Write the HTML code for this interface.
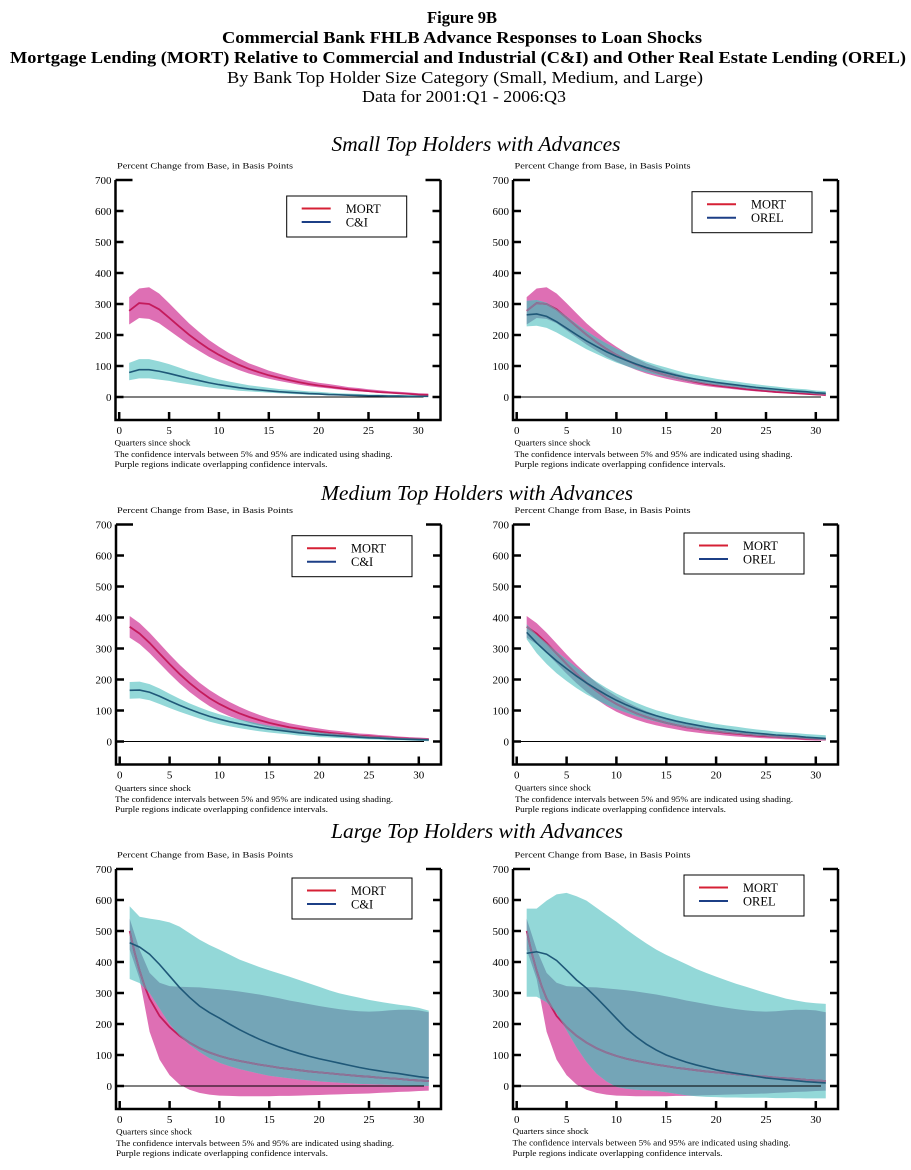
<!DOCTYPE html>
<html><head><meta charset="utf-8"><style>
html,body{margin:0;padding:0;background:#fff;}
svg{display:block;}
text{font-family:"Liberation Serif",serif;fill:#000;}
.mag{fill:#de6fb4;}
.cyn{fill:#93d8d8;}
.ovl{fill:#74a5b7;}
.lm{fill:none;stroke:#c41b5c;stroke-width:1.8;vector-effect:non-scaling-stroke;}
.lmm{fill:none;stroke:#8a7598;stroke-width:1.8;vector-effect:non-scaling-stroke;}
.lo{fill:none;stroke:#1f5878;stroke-width:1.6;vector-effect:non-scaling-stroke;}
.yl{font-size:11px;text-anchor:end;}
.xl{font-size:11px;text-anchor:middle;}
.fn{font-size:8.5px;}
.lg{font-size:12.5px;}
</style></head><body>
<svg width="911" height="1170" viewBox="0 0 911 1170" xmlns="http://www.w3.org/2000/svg">
<rect width="911" height="1170" fill="#fff"/>
<defs>
<g id="frame" fill="none" stroke="#000">
 <path stroke-width="2.5" d="M0,0V240M325,0V240M-1.25,240H326.25"/>
 <path stroke-width="2.5" d="M0,0H17M0,31H8M0,62H8M0,93H8M0,124H8M0,155H8M0,186H8M0,217H8"/>
 <path stroke-width="2.5" d="M325,0H310M325,31H317M325,62H317M325,93H317M325,124H317M325,155H317M325,186H317M325,217H317"/>
 <path stroke-width="2.5" d="M3.7,240V232M53.6,240V232M103.4,240V232M153.3,240V232M203.1,240V232M253,240V232M302.8,240V232"/>
</g>
<g id="zero"><path d="M0,217H308" stroke="#000" stroke-width="1" fill="none"/></g>
<g id="legbox"><rect x="0" y="0" width="120" height="41" fill="#fff" stroke="#000" stroke-width="1"/>
<path d="M15,12.5H44" stroke="#d62035" stroke-width="2"/><path d="M15,26H44" stroke="#1c3f86" stroke-width="2"/></g>

<clipPath id="cTL" clipPathUnits="userSpaceOnUse"><polygon points="1,110 2,122 3,122 4,115 5,106 6,95 7,84 8,75 9,65 10,57 11,50 12,44 13,38 14,34 15,30 16,26 17,23 18,21 19,18 20,17 21,14 22,12 23,11 24,10 25,8 26,8 27,7 28,7 29,6 30,6 31,6 31,1 30,1 29,1 28,2 27,2 26,3 25,3 24,3 23,4 22,5 21,5 20,7 19,7 18,9 17,10 16,12 15,14 14,16 13,18 12,20 11,24 10,27 9,31 8,36 7,41 6,46 5,52 4,56 3,60 2,60 1,54"/></clipPath>
<clipPath id="cTR" clipPathUnits="userSpaceOnUse"><polygon points="1,310 2,313 3,304 4,284 5,260 6,236 7,213 8,192 9,173 10,156 11,141 12,127 13,114 14,104 15,95 16,86 17,77 18,71 19,65 20,59 21,54 22,50 23,45 24,41 25,37 26,34 27,30 28,27 29,25 30,21 31,19 31,7 30,9 29,12 28,14 27,16 26,19 25,21 24,24 23,27 22,31 21,34 20,38 19,42 18,47 17,52 16,58 15,65 14,72 13,80 12,89 11,100 10,111 9,124 8,139 7,154 6,172 5,190 4,208 3,223 2,230 1,228"/></clipPath>
<clipPath id="cML" clipPathUnits="userSpaceOnUse"><polygon points="1,192 2,193 3,185 4,171 5,154 6,138 7,123 8,110 9,98 10,88 11,79 12,71 13,64 14,57 15,51 16,46 17,41 18,37 19,33 20,30 21,27 22,25 23,22 24,20 25,17 26,16 27,14 28,12 29,11 30,10 31,9 31,1 30,2 29,3 28,4 27,4 26,6 25,7 24,8 23,10 22,11 21,13 20,14 19,17 18,19 17,23 16,26 15,29 14,33 13,38 12,43 11,49 10,56 9,64 8,74 7,85 6,96 5,108 4,121 3,133 2,139 1,138"/></clipPath>
<clipPath id="cMR" clipPathUnits="userSpaceOnUse"><polygon points="1,378 2,345 3,318 4,290 5,264 6,239 7,215 8,193 9,173 10,155 11,139 12,125 13,112 14,101 15,92 16,83 17,76 18,69 19,63 20,57 21,52 22,48 23,43 24,39 25,36 26,32 27,29 28,27 29,24 30,22 31,20 31,4 30,6 29,8 28,10 27,11 26,13 25,16 24,18 23,21 22,24 21,27 20,30 19,34 18,39 17,44 16,50 15,56 14,64 13,72 12,82 11,93 10,105 9,119 8,135 7,152 6,172 5,195 4,220 3,250 2,285 1,330"/></clipPath>
<clipPath id="cBL" clipPathUnits="userSpaceOnUse"><polygon points="1,580 2,546 3,540 4,535 5,528 6,514 7,493 8,472 9,455 10,440 11,424 12,408 13,396 14,384 15,373 16,363 17,353 18,342 19,331 20,320 21,309 22,299 23,292 24,285 25,278 26,272 27,267 28,262 29,258 30,252 31,243 31,0 30,1 29,2 28,3 27,4 26,5 25,6 24,7 23,9 22,11 21,13 20,15 19,18 18,21 17,25 16,29 15,33 14,40 13,47 12,55 11,64 10,75 9,90 8,110 7,133 6,162 5,200 4,250 3,300 2,332 1,345"/></clipPath>
<clipPath id="cBR" clipPathUnits="userSpaceOnUse"><polygon points="1,572 2,572 3,598 4,618 5,623 6,612 7,598 8,575 9,552 10,530 11,505 12,482 13,460 14,440 15,423 16,408 17,393 18,378 19,365 20,353 21,341 22,330 23,320 24,310 25,300 26,291 27,282 28,276 29,270 30,267 31,265 31,-40 30,-40 29,-40 28,-39 27,-39 26,-39 25,-38 24,-38 23,-38 22,-37 21,-37 20,-36 19,-35 18,-33 17,-30 16,-25 15,-20 14,-16 13,-14 12,-12 11,-9 10,-3 9,15 8,40 7,78 6,125 5,180 4,235 3,270 2,288 1,288"/></clipPath>
</defs>

<!-- Titles -->
<text x="462" y="23" font-size="17" font-weight="bold" text-anchor="middle" textLength="70" lengthAdjust="spacingAndGlyphs">Figure 9B</text>
<text x="462" y="43" font-size="17" font-weight="bold" text-anchor="middle" textLength="480" lengthAdjust="spacingAndGlyphs">Commercial Bank FHLB Advance Responses to Loan Shocks</text>
<text x="458" y="63" font-size="17" font-weight="bold" text-anchor="middle" textLength="896" lengthAdjust="spacingAndGlyphs">Mortgage Lending (MORT) Relative to Commercial and Industrial (C&amp;I) and Other Real Estate Lending (OREL)</text>
<text x="465" y="83" font-size="17" text-anchor="middle" textLength="476" lengthAdjust="spacingAndGlyphs">By Bank Top Holder Size Category (Small, Medium, and Large)</text>
<text x="464" y="102" font-size="17" text-anchor="middle" textLength="204" lengthAdjust="spacingAndGlyphs">Data for 2001:Q1 - 2006:Q3</text>

<text x="476" y="151" font-size="21" font-style="italic" text-anchor="middle" textLength="289" lengthAdjust="spacingAndGlyphs">Small Top Holders with Advances</text>
<text x="477" y="500" font-size="21" font-style="italic" text-anchor="middle" textLength="312" lengthAdjust="spacingAndGlyphs">Medium Top Holders with Advances</text>
<text x="477" y="838" font-size="21" font-style="italic" text-anchor="middle" textLength="292" lengthAdjust="spacingAndGlyphs">Large Top Holders with Advances</text>

<!-- ===== Panel TL ===== -->
<g transform="translate(115.5,180)">
 <g transform="translate(3.7,217) scale(9.97,-0.31)">
  <polygon class="mag" points="1,322 2,350 3,354 4,334 5,303 6,270 7,238 8,210 9,184 10,162 11,142 12,125 13,109 14,97 15,85 16,76 17,67 18,59 19,52 20,46 21,42 22,37 23,32 24,29 25,25 26,22 27,19 28,17 29,15 30,12 31,11 31,3 30,7 29,8 28,10 27,12 26,13 25,16 24,18 23,21 22,24 21,28 20,31 19,35 18,40 17,46 16,52 15,59 14,67 13,76 12,87 11,100 10,114 9,130 8,149 7,169 6,192 5,215 4,238 3,252 2,255 1,234"/>
  <polygon class="cyn" points="1,110 2,122 3,122 4,115 5,106 6,95 7,84 8,75 9,65 10,57 11,50 12,44 13,38 14,34 15,30 16,26 17,23 18,21 19,18 20,17 21,14 22,12 23,11 24,10 25,8 26,8 27,7 28,7 29,6 30,6 31,6 31,1 30,1 29,1 28,2 27,2 26,3 25,3 24,3 23,4 22,5 21,5 20,7 19,7 18,9 17,10 16,12 15,14 14,16 13,18 12,20 11,24 10,27 9,31 8,36 7,41 6,46 5,52 4,56 3,60 2,60 1,54"/>
  <polygon class="ovl" clip-path="url(#cTL)" points="1,322 2,350 3,354 4,334 5,303 6,270 7,238 8,210 9,184 10,162 11,142 12,125 13,109 14,97 15,85 16,76 17,67 18,59 19,52 20,46 21,42 22,37 23,32 24,29 25,25 26,22 27,19 28,17 29,15 30,12 31,11 31,3 30,7 29,8 28,10 27,12 26,13 25,16 24,18 23,21 22,24 21,28 20,31 19,35 18,40 17,46 16,52 15,59 14,67 13,76 12,87 11,100 10,114 9,130 8,149 7,169 6,192 5,215 4,238 3,252 2,255 1,234"/>
 </g>
 <use href="#zero"/>
 <g transform="translate(3.7,217) scale(9.97,-0.31)">
  <polyline class="lm" points="1,278 2,303 3,300 4,283 5,256 6,228 7,201 8,177 9,155 10,136 11,119 12,104 13,91 14,80 15,70 16,62 17,55 18,48 19,42 20,37 21,33 22,29 23,25 24,22 25,19 26,16 27,14 28,12 29,10 30,8 31,7"/>
  <polyline class="lo" points="1,79 2,88 3,88 4,83 5,76 6,68 7,60 8,53 9,46 10,40 11,35 12,30 13,26 14,23 15,20 16,17 17,15 18,13 19,11 20,10 21,8 22,7 23,6 24,5 25,4 26,4 27,3 28,3 29,2 30,2 31,2"/>
 </g>
 <use href="#frame"/>
 <g transform="translate(171.2,16)"><use href="#legbox"/><text class="lg" x="59" y="17" textLength="35" lengthAdjust="spacingAndGlyphs">MORT</text><text class="lg" x="59" y="30.5">C&amp;I</text></g>
 <text class="fn" x="1.5" y="-11.5" textLength="176" lengthAdjust="spacingAndGlyphs">Percent Change from Base, in Basis Points</text>
 <text class="yl" x="-4" y="4">700</text><text class="yl" x="-4" y="35">600</text><text class="yl" x="-4" y="66">500</text><text class="yl" x="-4" y="97">400</text><text class="yl" x="-4" y="128">300</text><text class="yl" x="-4" y="159">200</text><text class="yl" x="-4" y="190">100</text><text class="yl" x="-4" y="221">0</text>
 <text class="xl" x="3.7" y="254">0</text><text class="xl" x="53.6" y="254">5</text><text class="xl" x="103.4" y="254">10</text><text class="xl" x="153.3" y="254">15</text><text class="xl" x="203.1" y="254">20</text><text class="xl" x="253" y="254">25</text><text class="xl" x="302.8" y="254">30</text>
 <text class="fn" x="-1" y="265.5" textLength="76" lengthAdjust="spacingAndGlyphs">Quarters since shock</text>
 <text class="fn" x="-1" y="276.8" textLength="278" lengthAdjust="spacingAndGlyphs">The confidence intervals between 5% and 95% are indicated using shading.</text>
 <text class="fn" x="-1" y="287" textLength="213" lengthAdjust="spacingAndGlyphs">Purple regions indicate overlapping confidence intervals.</text>
</g>

<!-- ===== Panel TR ===== -->
<g transform="translate(513,180)">
 <g transform="translate(3.7,217) scale(9.97,-0.31)">
  <polygon class="mag" points="1,322 2,350 3,354 4,334 5,303 6,270 7,238 8,210 9,184 10,162 11,142 12,125 13,109 14,97 15,85 16,76 17,67 18,59 19,52 20,46 21,42 22,37 23,32 24,29 25,25 26,22 27,19 28,17 29,15 30,12 31,11 31,3 30,7 29,8 28,10 27,12 26,13 25,16 24,18 23,21 22,24 21,28 20,31 19,35 18,40 17,46 16,52 15,59 14,67 13,76 12,87 11,100 10,114 9,130 8,149 7,169 6,192 5,215 4,238 3,252 2,255 1,234"/>
  <polygon class="cyn" points="1,310 2,313 3,304 4,284 5,260 6,236 7,213 8,192 9,173 10,156 11,141 12,127 13,114 14,104 15,95 16,86 17,77 18,71 19,65 20,59 21,54 22,50 23,45 24,41 25,37 26,34 27,30 28,27 29,25 30,21 31,19 31,7 30,9 29,12 28,14 27,16 26,19 25,21 24,24 23,27 22,31 21,34 20,38 19,42 18,47 17,52 16,58 15,65 14,72 13,80 12,89 11,100 10,111 9,124 8,139 7,154 6,172 5,190 4,208 3,223 2,230 1,228"/>
  <polygon class="ovl" clip-path="url(#cTR)" points="1,322 2,350 3,354 4,334 5,303 6,270 7,238 8,210 9,184 10,162 11,142 12,125 13,109 14,97 15,85 16,76 17,67 18,59 19,52 20,46 21,42 22,37 23,32 24,29 25,25 26,22 27,19 28,17 29,15 30,12 31,11 31,3 30,7 29,8 28,10 27,12 26,13 25,16 24,18 23,21 22,24 21,28 20,31 19,35 18,40 17,46 16,52 15,59 14,67 13,76 12,87 11,100 10,114 9,130 8,149 7,169 6,192 5,215 4,238 3,252 2,255 1,234"/>
 </g>
 <use href="#zero"/>
 <g transform="translate(3.7,217) scale(9.97,-0.31)">
  <polyline class="lm" points="1,278 2,303 3,300 4,283 5,256 6,228 7,201 8,177 9,155 10,136 11,119 12,104 13,91 14,80 15,70 16,62 17,55 18,48 19,42 20,37 21,33 22,29 23,25 24,22 25,19 26,16 27,14 28,12 29,10 30,8 31,7"/>
  <polyline class="lmm" clip-path="url(#cTR)" points="1,278 2,303 3,300 4,283 5,256 6,228 7,201 8,177 9,155 10,136 11,119 12,104 13,91 14,80 15,70 16,62 17,55 18,48 19,42 20,37 21,33 22,29 23,25 24,22 25,19 26,16 27,14 28,12 29,10 30,8 31,7"/>
  <polyline class="lo" points="1,265 2,268 3,260 4,243 5,222 6,201 7,181 8,163 9,146 10,131 11,118 12,106 13,95 14,86 15,78 16,70 17,63 18,57 19,52 20,47 21,43 22,39 23,35 24,31 25,28 26,25 27,22 28,19 29,17 30,14 31,12"/>
 </g>
 <use href="#frame"/>
 <g transform="translate(179,11.7)"><use href="#legbox"/><text class="lg" x="59" y="17" textLength="35" lengthAdjust="spacingAndGlyphs">MORT</text><text class="lg" x="59" y="30.5">OREL</text></g>
 <text class="fn" x="1.5" y="-11.5" textLength="176" lengthAdjust="spacingAndGlyphs">Percent Change from Base, in Basis Points</text>
 <text class="yl" x="-4" y="4">700</text><text class="yl" x="-4" y="35">600</text><text class="yl" x="-4" y="66">500</text><text class="yl" x="-4" y="97">400</text><text class="yl" x="-4" y="128">300</text><text class="yl" x="-4" y="159">200</text><text class="yl" x="-4" y="190">100</text><text class="yl" x="-4" y="221">0</text>
 <text class="xl" x="3.7" y="254">0</text><text class="xl" x="53.6" y="254">5</text><text class="xl" x="103.4" y="254">10</text><text class="xl" x="153.3" y="254">15</text><text class="xl" x="203.1" y="254">20</text><text class="xl" x="253" y="254">25</text><text class="xl" x="302.8" y="254">30</text>
 <text class="fn" x="1.5" y="265.5" textLength="76" lengthAdjust="spacingAndGlyphs">Quarters since shock</text>
 <text class="fn" x="1.5" y="276.8" textLength="278" lengthAdjust="spacingAndGlyphs">The confidence intervals between 5% and 95% are indicated using shading.</text>
 <text class="fn" x="1.5" y="287" textLength="211" lengthAdjust="spacingAndGlyphs">Purple regions indicate overlapping confidence intervals.</text>
</g>

<!-- ===== Panel ML ===== -->
<g transform="translate(116,524.5)">
 <g transform="translate(3.7,217) scale(9.97,-0.31)">
  <polygon class="mag" points="1,405 2,382 3,351 4,316 5,281 6,248 7,218 8,190 9,166 10,146 11,128 12,112 13,98 14,86 15,75 16,67 17,59 18,53 19,47 20,42 21,37 22,34 23,30 24,26 25,24 26,21 27,19 28,16 29,14 30,13 31,11 31,3 30,3 29,4 28,6 27,7 26,9 25,10 24,12 23,14 22,16 21,19 20,22 19,25 18,29 17,33 16,39 15,45 14,52 13,60 12,70 11,82 10,96 9,114 8,136 7,160 6,188 5,219 4,252 3,285 2,314 1,335"/>
  <polygon class="cyn" points="1,192 2,193 3,185 4,171 5,154 6,138 7,123 8,110 9,98 10,88 11,79 12,71 13,64 14,57 15,51 16,46 17,41 18,37 19,33 20,30 21,27 22,25 23,22 24,20 25,17 26,16 27,14 28,12 29,11 30,10 31,9 31,1 30,2 29,3 28,4 27,4 26,6 25,7 24,8 23,10 22,11 21,13 20,14 19,17 18,19 17,23 16,26 15,29 14,33 13,38 12,43 11,49 10,56 9,64 8,74 7,85 6,96 5,108 4,121 3,133 2,139 1,138"/>
  <polygon class="ovl" clip-path="url(#cML)" points="1,405 2,382 3,351 4,316 5,281 6,248 7,218 8,190 9,166 10,146 11,128 12,112 13,98 14,86 15,75 16,67 17,59 18,53 19,47 20,42 21,37 22,34 23,30 24,26 25,24 26,21 27,19 28,16 29,14 30,13 31,11 31,3 30,3 29,4 28,6 27,7 26,9 25,10 24,12 23,14 22,16 21,19 20,22 19,25 18,29 17,33 16,39 15,45 14,52 13,60 12,70 11,82 10,96 9,114 8,136 7,160 6,188 5,219 4,252 3,285 2,314 1,335"/>
 </g>
 <use href="#zero"/>
 <g transform="translate(3.7,217) scale(9.97,-0.31)">
  <polyline class="lm" points="1,370 2,348 3,318 4,284 5,250 6,218 7,189 8,163 9,140 10,121 11,105 12,91 13,79 14,69 15,60 16,53 17,46 18,41 19,36 20,32 21,28 22,25 23,22 24,19 25,17 26,15 27,13 28,11 29,9 30,8 31,7"/>
  <polyline class="lmm" clip-path="url(#cML)" points="1,370 2,348 3,318 4,284 5,250 6,218 7,189 8,163 9,140 10,121 11,105 12,91 13,79 14,69 15,60 16,53 17,46 18,41 19,36 20,32 21,28 22,25 23,22 24,19 25,17 26,15 27,13 28,11 29,9 30,8 31,7"/>
  <polyline class="lo" points="1,165 2,166 3,159 4,146 5,131 6,117 7,104 8,92 9,81 10,72 11,64 12,57 13,51 14,45 15,40 16,36 17,32 18,28 19,25 20,22 21,20 22,18 23,16 24,14 25,12 26,11 27,9 28,8 29,7 30,6 31,5"/>
 </g>
 <use href="#frame"/>
 <g transform="translate(176,11.2)"><use href="#legbox"/><text class="lg" x="59" y="17" textLength="35" lengthAdjust="spacingAndGlyphs">MORT</text><text class="lg" x="59" y="30.5">C&amp;I</text></g>
 <text class="fn" x="1" y="-11.5" textLength="176" lengthAdjust="spacingAndGlyphs">Percent Change from Base, in Basis Points</text>
 <text class="yl" x="-4" y="4">700</text><text class="yl" x="-4" y="35">600</text><text class="yl" x="-4" y="66">500</text><text class="yl" x="-4" y="97">400</text><text class="yl" x="-4" y="128">300</text><text class="yl" x="-4" y="159">200</text><text class="yl" x="-4" y="190">100</text><text class="yl" x="-4" y="221">0</text>
 <text class="xl" x="3.7" y="254">0</text><text class="xl" x="53.6" y="254">5</text><text class="xl" x="103.4" y="254">10</text><text class="xl" x="153.3" y="254">15</text><text class="xl" x="203.1" y="254">20</text><text class="xl" x="253" y="254">25</text><text class="xl" x="302.8" y="254">30</text>
 <text class="fn" x="-1" y="266.5" textLength="76" lengthAdjust="spacingAndGlyphs">Quarters since shock</text>
 <text class="fn" x="-1" y="277.5" textLength="278" lengthAdjust="spacingAndGlyphs">The confidence intervals between 5% and 95% are indicated using shading.</text>
 <text class="fn" x="-1" y="287.5" textLength="213" lengthAdjust="spacingAndGlyphs">Purple regions indicate overlapping confidence intervals.</text>
</g>

<!-- ===== Panel MR ===== -->
<g transform="translate(513,524.5)">
 <g transform="translate(3.7,217) scale(9.97,-0.31)">
  <polygon class="mag" points="1,405 2,382 3,351 4,316 5,281 6,248 7,218 8,190 9,166 10,146 11,128 12,112 13,98 14,86 15,75 16,67 17,59 18,53 19,47 20,42 21,37 22,34 23,30 24,26 25,24 26,21 27,19 28,16 29,14 30,13 31,11 31,3 30,3 29,4 28,6 27,7 26,9 25,10 24,12 23,14 22,16 21,19 20,22 19,25 18,29 17,33 16,39 15,45 14,52 13,60 12,70 11,82 10,96 9,114 8,136 7,160 6,188 5,219 4,252 3,285 2,314 1,335"/>
  <polygon class="cyn" points="1,378 2,345 3,318 4,290 5,264 6,239 7,215 8,193 9,173 10,155 11,139 12,125 13,112 14,101 15,92 16,83 17,76 18,69 19,63 20,57 21,52 22,48 23,43 24,39 25,36 26,32 27,29 28,27 29,24 30,22 31,20 31,4 30,6 29,8 28,10 27,11 26,13 25,16 24,18 23,21 22,24 21,27 20,30 19,34 18,39 17,44 16,50 15,56 14,64 13,72 12,82 11,93 10,105 9,119 8,135 7,152 6,172 5,195 4,220 3,250 2,285 1,330"/>
  <polygon class="ovl" clip-path="url(#cMR)" points="1,405 2,382 3,351 4,316 5,281 6,248 7,218 8,190 9,166 10,146 11,128 12,112 13,98 14,86 15,75 16,67 17,59 18,53 19,47 20,42 21,37 22,34 23,30 24,26 25,24 26,21 27,19 28,16 29,14 30,13 31,11 31,3 30,3 29,4 28,6 27,7 26,9 25,10 24,12 23,14 22,16 21,19 20,22 19,25 18,29 17,33 16,39 15,45 14,52 13,60 12,70 11,82 10,96 9,114 8,136 7,160 6,188 5,219 4,252 3,285 2,314 1,335"/>
 </g>
 <use href="#zero"/>
 <g transform="translate(3.7,217) scale(9.97,-0.31)">
  <polyline class="lm" points="1,370 2,348 3,318 4,284 5,250 6,218 7,189 8,163 9,140 10,121 11,105 12,91 13,79 14,69 15,60 16,53 17,46 18,41 19,36 20,32 21,28 22,25 23,22 24,19 25,17 26,15 27,13 28,11 29,9 30,8 31,7"/>
  <polyline class="lmm" clip-path="url(#cMR)" points="1,370 2,348 3,318 4,284 5,250 6,218 7,189 8,163 9,140 10,121 11,105 12,91 13,79 14,69 15,60 16,53 17,46 18,41 19,36 20,32 21,28 22,25 23,22 24,19 25,17 26,15 27,13 28,11 29,9 30,8 31,7"/>
  <polyline class="lo" points="1,352 2,318 3,288 4,260 5,235 6,211 7,189 8,169 9,150 10,133 11,118 12,105 13,93 14,83 15,74 16,66 17,59 18,53 19,47 20,42 21,38 22,34 23,30 24,27 25,24 26,21 27,19 28,17 29,14 30,12 31,10"/>
 </g>
 <use href="#frame"/>
 <g transform="translate(171,8.5)"><use href="#legbox"/><text class="lg" x="59" y="17" textLength="35" lengthAdjust="spacingAndGlyphs">MORT</text><text class="lg" x="59" y="30.5">OREL</text></g>
 <text class="fn" x="1.5" y="-11.5" textLength="176" lengthAdjust="spacingAndGlyphs">Percent Change from Base, in Basis Points</text>
 <text class="yl" x="-4" y="4">700</text><text class="yl" x="-4" y="35">600</text><text class="yl" x="-4" y="66">500</text><text class="yl" x="-4" y="97">400</text><text class="yl" x="-4" y="128">300</text><text class="yl" x="-4" y="159">200</text><text class="yl" x="-4" y="190">100</text><text class="yl" x="-4" y="221">0</text>
 <text class="xl" x="3.7" y="254">0</text><text class="xl" x="53.6" y="254">5</text><text class="xl" x="103.4" y="254">10</text><text class="xl" x="153.3" y="254">15</text><text class="xl" x="203.1" y="254">20</text><text class="xl" x="253" y="254">25</text><text class="xl" x="302.8" y="254">30</text>
 <text class="fn" x="2" y="266" textLength="76" lengthAdjust="spacingAndGlyphs">Quarters since shock</text>
 <text class="fn" x="2" y="277.5" textLength="278" lengthAdjust="spacingAndGlyphs">The confidence intervals between 5% and 95% are indicated using shading.</text>
 <text class="fn" x="2" y="287.5" textLength="211" lengthAdjust="spacingAndGlyphs">Purple regions indicate overlapping confidence intervals.</text>
</g>

<!-- ===== Panel BL ===== -->
<g transform="translate(116,869)">
 <g transform="translate(3.7,217) scale(9.97,-0.31)">
  <polygon class="mag" points="1,540 2,440 3,365 4,333 5,322 6,320 7,319 8,318 9,315 10,312 11,309 12,305 13,300 14,295 15,289 16,283 17,276 18,270 19,264 20,258 21,253 22,248 23,244 24,241 25,240 26,241 27,244 28,246 29,246 30,244 31,238 31,-15 30,-16 29,-18 28,-19 27,-21 26,-22 25,-24 24,-25 23,-26 22,-27 21,-28 20,-29 19,-30 18,-31 17,-32 16,-32 15,-33 14,-33 13,-33 12,-33 11,-32 10,-31 9,-28 8,-22 7,-12 6,5 5,35 4,85 3,175 2,345 1,440"/>
  <polygon class="cyn" points="1,580 2,546 3,540 4,535 5,528 6,514 7,493 8,472 9,455 10,440 11,424 12,408 13,396 14,384 15,373 16,363 17,353 18,342 19,331 20,320 21,309 22,299 23,292 24,285 25,278 26,272 27,267 28,262 29,258 30,252 31,243 31,0 30,1 29,2 28,3 27,4 26,5 25,6 24,7 23,9 22,11 21,13 20,15 19,18 18,21 17,25 16,29 15,33 14,40 13,47 12,55 11,64 10,75 9,90 8,110 7,133 6,162 5,200 4,250 3,300 2,332 1,345"/>
  <polygon class="ovl" clip-path="url(#cBL)" points="1,540 2,440 3,365 4,333 5,322 6,320 7,319 8,318 9,315 10,312 11,309 12,305 13,300 14,295 15,289 16,283 17,276 18,270 19,264 20,258 21,253 22,248 23,244 24,241 25,240 26,241 27,244 28,246 29,246 30,244 31,238 31,-15 30,-16 29,-18 28,-19 27,-21 26,-22 25,-24 24,-25 23,-26 22,-27 21,-28 20,-29 19,-30 18,-31 17,-32 16,-32 15,-33 14,-33 13,-33 12,-33 11,-32 10,-31 9,-28 8,-22 7,-12 6,5 5,35 4,85 3,175 2,345 1,440"/>
 </g>
 <use href="#zero"/>
 <g transform="translate(3.7,217) scale(9.97,-0.31)">
  <polyline class="lm" points="1,500 1.5,430 2,372 2.5,322 3,282 4,226 5,190 6,162 7,140 8,122 9,108 10,97 11,88 12,81 13,75 14,69 15,64 16,59 17,55 18,51 19,47 20,44 21,41 22,38 23,35 24,32 25,30 26,27 27,25 28,23 29,20 30,18 31,16"/>
  <polyline class="lmm" clip-path="url(#cBL)" points="1,500 1.5,430 2,372 2.5,322 3,282 4,226 5,190 6,162 7,140 8,122 9,108 10,97 11,88 12,81 13,75 14,69 15,64 16,59 17,55 18,51 19,47 20,44 21,41 22,38 23,35 24,32 25,30 26,27 27,25 28,23 29,20 30,18 31,16"/>
  <polyline class="lo" points="1,462 2,448 3,425 4,392 5,355 6,318 7,286 8,258 9,237 10,219 11,200 12,182 13,166 14,151 15,138 16,126 17,115 18,105 19,96 20,88 21,81 22,74 23,67 24,60 25,54 26,49 27,44 28,40 29,35 30,30 31,26"/>
 </g>
 <use href="#frame"/>
 <g transform="translate(176,9)"><use href="#legbox"/><text class="lg" x="59" y="17" textLength="35" lengthAdjust="spacingAndGlyphs">MORT</text><text class="lg" x="59" y="30.5">C&amp;I</text></g>
 <text class="fn" x="1" y="-11.5" textLength="176" lengthAdjust="spacingAndGlyphs">Percent Change from Base, in Basis Points</text>
 <text class="yl" x="-4" y="4">700</text><text class="yl" x="-4" y="35">600</text><text class="yl" x="-4" y="66">500</text><text class="yl" x="-4" y="97">400</text><text class="yl" x="-4" y="128">300</text><text class="yl" x="-4" y="159">200</text><text class="yl" x="-4" y="190">100</text><text class="yl" x="-4" y="221">0</text>
 <text class="xl" x="3.7" y="254">0</text><text class="xl" x="53.6" y="254">5</text><text class="xl" x="103.4" y="254">10</text><text class="xl" x="153.3" y="254">15</text><text class="xl" x="203.1" y="254">20</text><text class="xl" x="253" y="254">25</text><text class="xl" x="302.8" y="254">30</text>
 <text class="fn" x="0" y="265.5" textLength="76" lengthAdjust="spacingAndGlyphs">Quarters since shock</text>
 <text class="fn" x="0" y="276.8" textLength="278" lengthAdjust="spacingAndGlyphs">The confidence intervals between 5% and 95% are indicated using shading.</text>
 <text class="fn" x="0" y="287" textLength="212" lengthAdjust="spacingAndGlyphs">Purple regions indicate overlapping confidence intervals.</text>
</g>

<!-- ===== Panel BR ===== -->
<g transform="translate(513,869)">
 <g transform="translate(3.7,217) scale(9.97,-0.31)">
  <polygon class="mag" points="1,540 2,440 3,365 4,333 5,322 6,320 7,319 8,318 9,315 10,312 11,309 12,305 13,300 14,295 15,289 16,283 17,276 18,270 19,264 20,258 21,253 22,248 23,244 24,241 25,240 26,241 27,244 28,246 29,246 30,244 31,238 31,-15 30,-16 29,-18 28,-19 27,-21 26,-22 25,-24 24,-25 23,-26 22,-27 21,-28 20,-29 19,-30 18,-31 17,-32 16,-32 15,-33 14,-33 13,-33 12,-33 11,-32 10,-31 9,-28 8,-22 7,-12 6,5 5,35 4,85 3,175 2,345 1,440"/>
  <polygon class="cyn" points="1,572 2,572 3,598 4,618 5,623 6,612 7,598 8,575 9,552 10,530 11,505 12,482 13,460 14,440 15,423 16,408 17,393 18,378 19,365 20,353 21,341 22,330 23,320 24,310 25,300 26,291 27,282 28,276 29,270 30,267 31,265 31,-40 30,-40 29,-40 28,-39 27,-39 26,-39 25,-38 24,-38 23,-38 22,-37 21,-37 20,-36 19,-35 18,-33 17,-30 16,-25 15,-20 14,-16 13,-14 12,-12 11,-9 10,-3 9,15 8,40 7,78 6,125 5,180 4,235 3,270 2,288 1,288"/>
  <polygon class="ovl" clip-path="url(#cBR)" points="1,540 2,440 3,365 4,333 5,322 6,320 7,319 8,318 9,315 10,312 11,309 12,305 13,300 14,295 15,289 16,283 17,276 18,270 19,264 20,258 21,253 22,248 23,244 24,241 25,240 26,241 27,244 28,246 29,246 30,244 31,238 31,-15 30,-16 29,-18 28,-19 27,-21 26,-22 25,-24 24,-25 23,-26 22,-27 21,-28 20,-29 19,-30 18,-31 17,-32 16,-32 15,-33 14,-33 13,-33 12,-33 11,-32 10,-31 9,-28 8,-22 7,-12 6,5 5,35 4,85 3,175 2,345 1,440"/>
 </g>
 <use href="#zero"/>
 <g transform="translate(3.7,217) scale(9.97,-0.31)">
  <polyline class="lm" points="1,500 1.5,430 2,372 2.5,322 3,282 4,226 5,190 6,162 7,140 8,122 9,108 10,97 11,88 12,81 13,75 14,69 15,64 16,59 17,55 18,51 19,47 20,44 21,41 22,38 23,35 24,32 25,30 26,27 27,25 28,23 29,20 30,18 31,16"/>
  <polyline class="lmm" clip-path="url(#cBR)" points="1,500 1.5,430 2,372 2.5,322 3,282 4,226 5,190 6,162 7,140 8,122 9,108 10,97 11,88 12,81 13,75 14,69 15,64 16,59 17,55 18,51 19,47 20,44 21,41 22,38 23,35 24,32 25,30 26,27 27,25 28,23 29,20 30,18 31,16"/>
  <polyline class="lo" points="1,428 2,433 3,425 4,405 5,374 6,342 7,316 8,285 9,252 10,218 11,185 12,158 13,135 14,116 15,100 16,88 17,77 18,68 19,60 20,52 21,46 22,41 23,36 24,31 25,26 26,23 27,20 28,17 29,14 30,12 31,10"/>
 </g>
 <use href="#frame"/>
 <g transform="translate(171,6)"><use href="#legbox"/><text class="lg" x="59" y="17" textLength="35" lengthAdjust="spacingAndGlyphs">MORT</text><text class="lg" x="59" y="30.5">OREL</text></g>
 <text class="fn" x="1.5" y="-11.5" textLength="176" lengthAdjust="spacingAndGlyphs">Percent Change from Base, in Basis Points</text>
 <text class="yl" x="-4" y="4">700</text><text class="yl" x="-4" y="35">600</text><text class="yl" x="-4" y="66">500</text><text class="yl" x="-4" y="97">400</text><text class="yl" x="-4" y="128">300</text><text class="yl" x="-4" y="159">200</text><text class="yl" x="-4" y="190">100</text><text class="yl" x="-4" y="221">0</text>
 <text class="xl" x="3.7" y="254">0</text><text class="xl" x="53.6" y="254">5</text><text class="xl" x="103.4" y="254">10</text><text class="xl" x="153.3" y="254">15</text><text class="xl" x="203.1" y="254">20</text><text class="xl" x="253" y="254">25</text><text class="xl" x="302.8" y="254">30</text>
 <text class="fn" x="-0.5" y="265" textLength="76" lengthAdjust="spacingAndGlyphs">Quarters since shock</text>
 <text class="fn" x="-0.5" y="276.5" textLength="278" lengthAdjust="spacingAndGlyphs">The confidence intervals between 5% and 95% are indicated using shading.</text>
 <text class="fn" x="-0.5" y="287" textLength="210" lengthAdjust="spacingAndGlyphs">Purple regions indicate overlapping confidence intervals.</text>
</g>
</svg>
</body></html>
